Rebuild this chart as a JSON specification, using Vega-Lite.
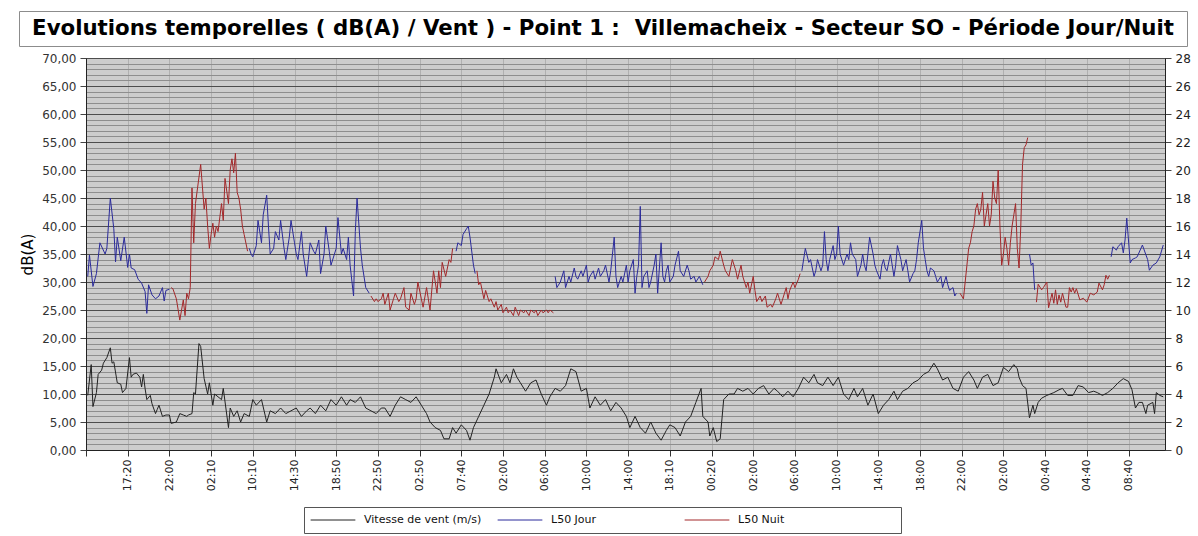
{
"$schema": "https://vega.github.io/schema/vega-lite/v6.json",
"background": "white",
"padding": {"left": 18, "top": 10, "right": 4, "bottom": 2},
"config": {"font": "DejaVu Sans", "view": {"stroke": null}},
"spacing": 4,
"datasets": {
"vent": [
{"k":1,"v":3.9},{"k":3,"v":6.1},{"k":4,"v":3.1},{"k":6,"v":4.1},{"k":7,"v":5.4},{"k":9,"v":5.7},{"k":10,"v":6.2},{"k":12,"v":6.6},{"k":14,"v":7.3},{"k":15,"v":6.2},{"k":16,"v":6.3},{"k":18,"v":4.8},{"k":20,"v":4.7},{"k":21,"v":4.1},{"k":23,"v":4.4},{"k":25,"v":6.6},{"k":26,"v":5.2},{"k":27,"v":5.4},{"k":29,"v":5.5},{"k":31,"v":5.2},{"k":32,"v":4.5},{"k":33,"v":5.4},{"k":34,"v":4.4},{"k":35,"v":3.6},{"k":37,"v":3.9},{"k":38,"v":3.3},{"k":40,"v":2.6},{"k":41,"v":2.9},{"k":42,"v":3.2},{"k":44,"v":2.4},{"k":46,"v":2.5},{"k":48,"v":2.5},{"k":49,"v":1.9},{"k":52,"v":2.0},{"k":54,"v":2.6},{"k":56,"v":2.5},{"k":58,"v":2.4},{"k":59,"v":2.5},{"k":61,"v":2.6},{"k":62,"v":4.1},{"k":63,"v":4.0},{"k":65,"v":7.6},{"k":66,"v":7.4},{"k":68,"v":5.1},{"k":70,"v":4.0},{"k":71,"v":4.8},{"k":73,"v":3.2},{"k":74,"v":4.0},{"k":78,"v":3.6},{"k":79,"v":4.4},{"k":82,"v":1.6},{"k":83,"v":3.0},{"k":85,"v":2.4},{"k":87,"v":2.8},{"k":89,"v":2.0},{"k":91,"v":2.6},{"k":94,"v":2.4},{"k":96,"v":3.6},{"k":98,"v":3.2},{"k":101,"v":3.6},{"k":104,"v":2.0},{"k":106,"v":2.8},{"k":109,"v":2.6},{"k":112,"v":3.0},{"k":115,"v":2.6},{"k":118,"v":2.8},{"k":121,"v":3.0},{"k":124,"v":2.4},{"k":127,"v":2.8},{"k":129,"v":3.0},{"k":132,"v":2.6},{"k":135,"v":3.2},{"k":138,"v":2.8},{"k":141,"v":3.6},{"k":144,"v":3.2},{"k":147,"v":3.8},{"k":150,"v":3.2},{"k":152,"v":3.6},{"k":155,"v":3.4},{"k":158,"v":3.8},{"k":161,"v":3.0},{"k":164,"v":2.8},{"k":167,"v":2.6},{"k":170,"v":3.0},{"k":172,"v":3.0},{"k":175,"v":2.4},{"k":178,"v":3.2},{"k":181,"v":3.8},{"k":184,"v":3.6},{"k":187,"v":3.4},{"k":190,"v":3.8},{"k":193,"v":3.2},{"k":196,"v":2.6},{"k":198,"v":2.0},{"k":201,"v":1.6},{"k":204,"v":1.4},{"k":206,"v":0.8},{"k":209,"v":0.8},{"k":211,"v":1.6},{"k":213,"v":1.2},{"k":216,"v":1.8},{"k":219,"v":1.4},{"k":221,"v":0.7},{"k":223,"v":1.6},{"k":226,"v":2.4},{"k":229,"v":3.2},{"k":232,"v":4.0},{"k":235,"v":5.2},{"k":236,"v":5.8},{"k":239,"v":4.8},{"k":242,"v":5.4},{"k":244,"v":4.8},{"k":246,"v":5.8},{"k":248,"v":5.2},{"k":250,"v":4.8},{"k":253,"v":4.2},{"k":256,"v":4.8},{"k":259,"v":5.0},{"k":262,"v":4.0},{"k":265,"v":3.2},{"k":267,"v":3.8},{"k":270,"v":4.4},{"k":273,"v":4.2},{"k":276,"v":4.6},{"k":279,"v":5.8},{"k":282,"v":5.6},{"k":285,"v":4.2},{"k":288,"v":4.4},{"k":290,"v":3.0},{"k":293,"v":3.8},{"k":296,"v":3.2},{"k":299,"v":3.6},{"k":302,"v":2.8},{"k":305,"v":3.4},{"k":308,"v":3.0},{"k":311,"v":2.4},{"k":313,"v":1.6},{"k":316,"v":2.4},{"k":319,"v":1.6},{"k":322,"v":1.2},{"k":325,"v":2.0},{"k":328,"v":1.2},{"k":331,"v":0.7},{"k":334,"v":1.4},{"k":336,"v":1.8},{"k":339,"v":1.6},{"k":342,"v":1.0},{"k":345,"v":2.0},{"k":348,"v":2.4},{"k":351,"v":3.4},{"k":354,"v":4.4},{"k":355,"v":2.4},{"k":358,"v":2.0},{"k":359,"v":1.0},{"k":361,"v":1.6},{"k":363,"v":0.6},{"k":365,"v":0.8},{"k":367,"v":3.6},{"k":370,"v":4.0},{"k":373,"v":4.0},{"k":375,"v":4.4},{"k":378,"v":4.2},{"k":381,"v":4.4},{"k":384,"v":4.0},{"k":387,"v":4.4},{"k":390,"v":4.6},{"k":393,"v":4.0},{"k":396,"v":4.4},{"k":398,"v":4.2},{"k":401,"v":3.8},{"k":404,"v":4.2},{"k":407,"v":3.8},{"k":410,"v":4.4},{"k":413,"v":5.2},{"k":416,"v":4.8},{"k":419,"v":5.4},{"k":421,"v":4.8},{"k":424,"v":4.6},{"k":427,"v":5.2},{"k":430,"v":4.6},{"k":433,"v":5.2},{"k":436,"v":4.0},{"k":439,"v":3.6},{"k":442,"v":4.4},{"k":444,"v":3.8},{"k":447,"v":4.4},{"k":450,"v":3.2},{"k":453,"v":4.0},{"k":456,"v":2.6},{"k":459,"v":3.2},{"k":462,"v":3.6},{"k":465,"v":4.2},{"k":467,"v":3.6},{"k":470,"v":4.2},{"k":473,"v":4.4},{"k":476,"v":4.8},{"k":479,"v":5.0},{"k":482,"v":5.4},{"k":485,"v":5.6},{"k":488,"v":6.2},{"k":490,"v":5.8},{"k":493,"v":5.0},{"k":496,"v":5.2},{"k":499,"v":4.4},{"k":502,"v":4.2},{"k":505,"v":5.2},{"k":508,"v":5.6},{"k":511,"v":5.0},{"k":513,"v":4.4},{"k":516,"v":5.2},{"k":519,"v":5.4},{"k":522,"v":4.6},{"k":525,"v":4.8},{"k":528,"v":5.9},{"k":531,"v":5.6},{"k":534,"v":6.1},{"k":536,"v":5.8},{"k":537,"v":5.2},{"k":539,"v":4.6},{"k":541,"v":4.4},{"k":543,"v":2.3},{"k":545,"v":3.2},{"k":546,"v":2.6},{"k":548,"v":3.4},{"k":550,"v":3.7},{"k":553,"v":3.9},{"k":557,"v":4.1},{"k":560,"v":4.3},{"k":562,"v":4.4},{"k":565,"v":3.9},{"k":568,"v":3.9},{"k":571,"v":4.6},{"k":574,"v":4.5},{"k":577,"v":4.1},{"k":580,"v":4.2},{"k":582,"v":4.1},{"k":585,"v":3.9},{"k":588,"v":4.1},{"k":591,"v":4.4},{"k":594,"v":4.8},{"k":597,"v":5.1},{"k":600,"v":4.9},{"k":602,"v":4.3},{"k":604,"v":3.0},{"k":606,"v":3.4},{"k":608,"v":3.4},{"k":610,"v":2.6},{"k":611,"v":3.2},{"k":614,"v":3.4},{"k":615,"v":2.6},{"k":616,"v":4.1},{"k":618,"v":3.9},{"k":620,"v":3.8}
],
"l50": [
{"k":1,"db":31,"s":"L50 Jour","g":"J1"},{"k":2,"db":34.8,"s":"L50 Jour","g":"J1"},{"k":4,"db":29.2,"s":"L50 Jour","g":"J1"},{"k":6,"db":31.5,"s":"L50 Jour","g":"J1"},{"k":8,"db":37,"s":"L50 Jour","g":"J1"},{"k":11,"db":35,"s":"L50 Jour","g":"J1"},{"k":12,"db":36,"s":"L50 Jour","g":"J1"},{"k":14,"db":45,"s":"L50 Jour","g":"J1"},{"k":16,"db":39.5,"s":"L50 Jour","g":"J1"},{"k":17,"db":33.6,"s":"L50 Jour","g":"J1"},{"k":18,"db":38,"s":"L50 Jour","g":"J1"},{"k":20,"db":33.8,"s":"L50 Jour","g":"J1"},{"k":22,"db":38,"s":"L50 Jour","g":"J1"},{"k":24,"db":32.6,"s":"L50 Jour","g":"J1"},{"k":25,"db":35,"s":"L50 Jour","g":"J1"},{"k":26,"db":32.5,"s":"L50 Jour","g":"J1"},{"k":28,"db":32.2,"s":"L50 Jour","g":"J1"},{"k":30,"db":30.5,"s":"L50 Jour","g":"J1"},{"k":32,"db":29.8,"s":"L50 Jour","g":"J1"},{"k":34,"db":28.3,"s":"L50 Jour","g":"J1"},{"k":35,"db":24.4,"s":"L50 Jour","g":"J1"},{"k":36,"db":29.5,"s":"L50 Jour","g":"J1"},{"k":38,"db":27.7,"s":"L50 Jour","g":"J1"},{"k":40,"db":27,"s":"L50 Jour","g":"J1"},{"k":42,"db":27.5,"s":"L50 Jour","g":"J1"},{"k":44,"db":29,"s":"L50 Jour","g":"J1"},{"k":45,"db":26.6,"s":"L50 Jour","g":"J1"},{"k":46,"db":28.5,"s":"L50 Jour","g":"J1"},{"k":48,"db":28.7,"s":"L50 Jour","g":"J1"},
{"k":49,"db":29,"s":"L50 Nuit","g":"N1"},{"k":50,"db":28.8,"s":"L50 Nuit","g":"N1"},{"k":52,"db":27,"s":"L50 Nuit","g":"N1"},{"k":54,"db":23.2,"s":"L50 Nuit","g":"N1"},{"k":56,"db":26.8,"s":"L50 Nuit","g":"N1"},{"k":57,"db":24,"s":"L50 Nuit","g":"N1"},{"k":58,"db":28,"s":"L50 Nuit","g":"N1"},{"k":59,"db":27,"s":"L50 Nuit","g":"N1"},{"k":60,"db":29,"s":"L50 Nuit","g":"N1"},{"k":61,"db":46.8,"s":"L50 Nuit","g":"N1"},{"k":62,"db":37,"s":"L50 Nuit","g":"N1"},{"k":63,"db":44,"s":"L50 Nuit","g":"N1"},{"k":66,"db":51,"s":"L50 Nuit","g":"N1"},{"k":68,"db":43,"s":"L50 Nuit","g":"N1"},{"k":69,"db":45,"s":"L50 Nuit","g":"N1"},{"k":70,"db":40,"s":"L50 Nuit","g":"N1"},{"k":71,"db":36,"s":"L50 Nuit","g":"N1"},{"k":72,"db":38.5,"s":"L50 Nuit","g":"N1"},{"k":73,"db":40.5,"s":"L50 Nuit","g":"N1"},{"k":74,"db":38,"s":"L50 Nuit","g":"N1"},{"k":75,"db":40,"s":"L50 Nuit","g":"N1"},{"k":76,"db":39,"s":"L50 Nuit","g":"N1"},{"k":78,"db":44,"s":"L50 Nuit","g":"N1"},{"k":79,"db":41,"s":"L50 Nuit","g":"N1"},{"k":80,"db":48.5,"s":"L50 Nuit","g":"N1"},{"k":82,"db":44,"s":"L50 Nuit","g":"N1"},{"k":83,"db":50,"s":"L50 Nuit","g":"N1"},{"k":84,"db":52,"s":"L50 Nuit","g":"N1"},{"k":85,"db":49.5,"s":"L50 Nuit","g":"N1"},{"k":86,"db":53,"s":"L50 Nuit","g":"N1"},{"k":87,"db":46,"s":"L50 Nuit","g":"N1"},{"k":88,"db":45,"s":"L50 Nuit","g":"N1"},{"k":89,"db":43,"s":"L50 Nuit","g":"N1"},{"k":90,"db":40,"s":"L50 Nuit","g":"N1"},{"k":91,"db":38.5,"s":"L50 Nuit","g":"N1"},{"k":93,"db":35.5,"s":"L50 Nuit","g":"N1"},
{"k":94,"db":36,"s":"L50 Jour","g":"J2"},{"k":95,"db":35,"s":"L50 Jour","g":"J2"},{"k":96,"db":34.5,"s":"L50 Jour","g":"J2"},{"k":98,"db":36.5,"s":"L50 Jour","g":"J2"},{"k":99,"db":41,"s":"L50 Jour","g":"J2"},{"k":101,"db":37,"s":"L50 Jour","g":"J2"},{"k":102,"db":42,"s":"L50 Jour","g":"J2"},{"k":104,"db":45.5,"s":"L50 Jour","g":"J2"},{"k":105,"db":40,"s":"L50 Jour","g":"J2"},{"k":106,"db":35,"s":"L50 Jour","g":"J2"},{"k":108,"db":36,"s":"L50 Jour","g":"J2"},{"k":109,"db":39,"s":"L50 Jour","g":"J2"},{"k":111,"db":37.5,"s":"L50 Jour","g":"J2"},{"k":112,"db":41,"s":"L50 Jour","g":"J2"},{"k":114,"db":36,"s":"L50 Jour","g":"J2"},{"k":115,"db":34,"s":"L50 Jour","g":"J2"},{"k":117,"db":38,"s":"L50 Jour","g":"J2"},{"k":118,"db":41,"s":"L50 Jour","g":"J2"},{"k":120,"db":37,"s":"L50 Jour","g":"J2"},{"k":121,"db":35,"s":"L50 Jour","g":"J2"},{"k":122,"db":34,"s":"L50 Jour","g":"J2"},{"k":124,"db":39,"s":"L50 Jour","g":"J2"},{"k":125,"db":35,"s":"L50 Jour","g":"J2"},{"k":127,"db":31,"s":"L50 Jour","g":"J2"},{"k":128,"db":34,"s":"L50 Jour","g":"J2"},{"k":129,"db":37,"s":"L50 Jour","g":"J2"},{"k":131,"db":35.5,"s":"L50 Jour","g":"J2"},{"k":132,"db":35,"s":"L50 Jour","g":"J2"},{"k":134,"db":37.5,"s":"L50 Jour","g":"J2"},{"k":135,"db":31.5,"s":"L50 Jour","g":"J2"},{"k":137,"db":35,"s":"L50 Jour","g":"J2"},{"k":138,"db":40,"s":"L50 Jour","g":"J2"},{"k":140,"db":35.5,"s":"L50 Jour","g":"J2"},{"k":141,"db":33,"s":"L50 Jour","g":"J2"},{"k":143,"db":35,"s":"L50 Jour","g":"J2"},{"k":144,"db":36,"s":"L50 Jour","g":"J2"},{"k":145,"db":41.5,"s":"L50 Jour","g":"J2"},{"k":147,"db":35,"s":"L50 Jour","g":"J2"},{"k":148,"db":36,"s":"L50 Jour","g":"J2"},{"k":150,"db":34,"s":"L50 Jour","g":"J2"},{"k":151,"db":38,"s":"L50 Jour","g":"J2"},{"k":152,"db":33,"s":"L50 Jour","g":"J2"},{"k":154,"db":27.5,"s":"L50 Jour","g":"J2"},{"k":155,"db":39,"s":"L50 Jour","g":"J2"},{"k":156,"db":45,"s":"L50 Jour","g":"J2"},{"k":158,"db":36,"s":"L50 Jour","g":"J2"},{"k":159,"db":33,"s":"L50 Jour","g":"J2"},{"k":160,"db":31,"s":"L50 Jour","g":"J2"},{"k":161,"db":29,"s":"L50 Jour","g":"J2"},{"k":163,"db":28,"s":"L50 Jour","g":"J2"},
{"k":164,"db":27.5,"s":"L50 Nuit","g":"N2"},{"k":166,"db":26.5,"s":"L50 Nuit","g":"N2"},{"k":167,"db":27,"s":"L50 Nuit","g":"N2"},{"k":168,"db":26.5,"s":"L50 Nuit","g":"N2"},{"k":170,"db":27,"s":"L50 Nuit","g":"N2"},{"k":171,"db":28,"s":"L50 Nuit","g":"N2"},{"k":172,"db":26,"s":"L50 Nuit","g":"N2"},{"k":174,"db":28,"s":"L50 Nuit","g":"N2"},{"k":175,"db":25,"s":"L50 Nuit","g":"N2"},{"k":177,"db":27,"s":"L50 Nuit","g":"N2"},{"k":178,"db":28,"s":"L50 Nuit","g":"N2"},{"k":180,"db":26.5,"s":"L50 Nuit","g":"N2"},{"k":181,"db":27,"s":"L50 Nuit","g":"N2"},{"k":183,"db":29,"s":"L50 Nuit","g":"N2"},{"k":184,"db":25.5,"s":"L50 Nuit","g":"N2"},{"k":186,"db":25,"s":"L50 Nuit","g":"N2"},{"k":187,"db":28,"s":"L50 Nuit","g":"N2"},{"k":189,"db":26,"s":"L50 Nuit","g":"N2"},{"k":190,"db":27,"s":"L50 Nuit","g":"N2"},{"k":191,"db":30,"s":"L50 Nuit","g":"N2"},{"k":193,"db":27,"s":"L50 Nuit","g":"N2"},{"k":194,"db":25.5,"s":"L50 Nuit","g":"N2"},{"k":196,"db":29,"s":"L50 Nuit","g":"N2"},{"k":197,"db":27,"s":"L50 Nuit","g":"N2"},{"k":198,"db":25,"s":"L50 Nuit","g":"N2"},{"k":200,"db":32,"s":"L50 Nuit","g":"N2"},{"k":202,"db":28,"s":"L50 Nuit","g":"N2"},{"k":203,"db":32,"s":"L50 Nuit","g":"N2"},{"k":204,"db":29,"s":"L50 Nuit","g":"N2"},{"k":205,"db":33.5,"s":"L50 Nuit","g":"N2"},{"k":207,"db":31,"s":"L50 Nuit","g":"N2"},{"k":209,"db":34,"s":"L50 Nuit","g":"N2"},{"k":210,"db":33.5,"s":"L50 Nuit","g":"N2"},{"k":211,"db":36,"s":"L50 Nuit","g":"N2"},
{"k":213,"db":35.5,"s":"L50 Jour","g":"J3"},{"k":214,"db":37,"s":"L50 Jour","g":"J3"},{"k":216,"db":36.5,"s":"L50 Jour","g":"J3"},{"k":217,"db":38.5,"s":"L50 Jour","g":"J3"},{"k":219,"db":39.5,"s":"L50 Jour","g":"J3"},{"k":220,"db":40,"s":"L50 Jour","g":"J3"},{"k":221,"db":38,"s":"L50 Jour","g":"J3"},{"k":223,"db":33,"s":"L50 Jour","g":"J3"},{"k":224,"db":31.5,"s":"L50 Jour","g":"J3"},
{"k":225,"db":32,"s":"L50 Nuit","g":"N3"},{"k":226,"db":29.5,"s":"L50 Nuit","g":"N3"},{"k":227,"db":30,"s":"L50 Nuit","g":"N3"},{"k":229,"db":27,"s":"L50 Nuit","g":"N3"},{"k":230,"db":28.5,"s":"L50 Nuit","g":"N3"},{"k":232,"db":26.5,"s":"L50 Nuit","g":"N3"},{"k":233,"db":27,"s":"L50 Nuit","g":"N3"},{"k":235,"db":25.5,"s":"L50 Nuit","g":"N3"},{"k":236,"db":26.5,"s":"L50 Nuit","g":"N3"},{"k":237,"db":25,"s":"L50 Nuit","g":"N3"},{"k":239,"db":26,"s":"L50 Nuit","g":"N3"},{"k":240,"db":24.5,"s":"L50 Nuit","g":"N3"},{"k":242,"db":25.5,"s":"L50 Nuit","g":"N3"},{"k":243,"db":24.5,"s":"L50 Nuit","g":"N3"},{"k":244,"db":25,"s":"L50 Nuit","g":"N3"},{"k":246,"db":24,"s":"L50 Nuit","g":"N3"},{"k":247,"db":25.5,"s":"L50 Nuit","g":"N3"},{"k":249,"db":24,"s":"L50 Nuit","g":"N3"},{"k":250,"db":25,"s":"L50 Nuit","g":"N3"},{"k":252,"db":24.5,"s":"L50 Nuit","g":"N3"},{"k":253,"db":25,"s":"L50 Nuit","g":"N3"},{"k":255,"db":24,"s":"L50 Nuit","g":"N3"},{"k":256,"db":25,"s":"L50 Nuit","g":"N3"},{"k":258,"db":24.5,"s":"L50 Nuit","g":"N3"},{"k":259,"db":25,"s":"L50 Nuit","g":"N3"},{"k":260,"db":24,"s":"L50 Nuit","g":"N3"},{"k":262,"db":25,"s":"L50 Nuit","g":"N3"},{"k":263,"db":24.5,"s":"L50 Nuit","g":"N3"},{"k":265,"db":25,"s":"L50 Nuit","g":"N3"},{"k":266,"db":24.5,"s":"L50 Nuit","g":"N3"},{"k":267,"db":25,"s":"L50 Nuit","g":"N3"},{"k":269,"db":24.5,"s":"L50 Nuit","g":"N3"},
{"k":270,"db":31,"s":"L50 Jour","g":"J4"},{"k":271,"db":29,"s":"L50 Jour","g":"J4"},{"k":273,"db":30,"s":"L50 Jour","g":"J4"},{"k":275,"db":32,"s":"L50 Jour","g":"J4"},{"k":276,"db":29,"s":"L50 Jour","g":"J4"},{"k":278,"db":31,"s":"L50 Jour","g":"J4"},{"k":279,"db":30,"s":"L50 Jour","g":"J4"},{"k":281,"db":32.5,"s":"L50 Jour","g":"J4"},{"k":282,"db":31,"s":"L50 Jour","g":"J4"},{"k":283,"db":30.5,"s":"L50 Jour","g":"J4"},{"k":285,"db":32,"s":"L50 Jour","g":"J4"},{"k":286,"db":31,"s":"L50 Jour","g":"J4"},{"k":288,"db":33,"s":"L50 Jour","g":"J4"},{"k":289,"db":30,"s":"L50 Jour","g":"J4"},{"k":290,"db":31,"s":"L50 Jour","g":"J4"},{"k":292,"db":32,"s":"L50 Jour","g":"J4"},{"k":293,"db":30.5,"s":"L50 Jour","g":"J4"},{"k":295,"db":32.5,"s":"L50 Jour","g":"J4"},{"k":296,"db":31,"s":"L50 Jour","g":"J4"},{"k":298,"db":32,"s":"L50 Jour","g":"J4"},{"k":299,"db":33,"s":"L50 Jour","g":"J4"},{"k":301,"db":30,"s":"L50 Jour","g":"J4"},{"k":302,"db":32,"s":"L50 Jour","g":"J4"},{"k":304,"db":38,"s":"L50 Jour","g":"J4"},{"k":305,"db":31,"s":"L50 Jour","g":"J4"},{"k":306,"db":29,"s":"L50 Jour","g":"J4"},{"k":308,"db":31,"s":"L50 Jour","g":"J4"},{"k":309,"db":30,"s":"L50 Jour","g":"J4"},{"k":311,"db":33,"s":"L50 Jour","g":"J4"},{"k":312,"db":30,"s":"L50 Jour","g":"J4"},{"k":313,"db":32,"s":"L50 Jour","g":"J4"},{"k":315,"db":34,"s":"L50 Jour","g":"J4"},{"k":316,"db":28,"s":"L50 Jour","g":"J4"},{"k":317,"db":31,"s":"L50 Jour","g":"J4"},{"k":318,"db":33,"s":"L50 Jour","g":"J4"},{"k":319,"db":43.5,"s":"L50 Jour","g":"J4"},{"k":320,"db":29,"s":"L50 Jour","g":"J4"},{"k":321,"db":31,"s":"L50 Jour","g":"J4"},{"k":323,"db":32,"s":"L50 Jour","g":"J4"},{"k":324,"db":29,"s":"L50 Jour","g":"J4"},{"k":325,"db":30,"s":"L50 Jour","g":"J4"},{"k":327,"db":33,"s":"L50 Jour","g":"J4"},{"k":328,"db":35,"s":"L50 Jour","g":"J4"},{"k":329,"db":28,"s":"L50 Jour","g":"J4"},{"k":331,"db":37,"s":"L50 Jour","g":"J4"},{"k":332,"db":31,"s":"L50 Jour","g":"J4"},{"k":333,"db":30,"s":"L50 Jour","g":"J4"},{"k":334,"db":32,"s":"L50 Jour","g":"J4"},{"k":335,"db":33,"s":"L50 Jour","g":"J4"},{"k":336,"db":30,"s":"L50 Jour","g":"J4"},{"k":338,"db":31,"s":"L50 Jour","g":"J4"},{"k":339,"db":33,"s":"L50 Jour","g":"J4"},{"k":341,"db":35.5,"s":"L50 Jour","g":"J4"},{"k":342,"db":32,"s":"L50 Jour","g":"J4"},{"k":344,"db":31,"s":"L50 Jour","g":"J4"},{"k":346,"db":33,"s":"L50 Jour","g":"J4"},{"k":347,"db":32,"s":"L50 Jour","g":"J4"},{"k":348,"db":30.5,"s":"L50 Jour","g":"J4"},{"k":350,"db":31,"s":"L50 Jour","g":"J4"},{"k":351,"db":30,"s":"L50 Jour","g":"J4"},{"k":353,"db":31,"s":"L50 Jour","g":"J4"},{"k":355,"db":29.5,"s":"L50 Jour","g":"J4"},
{"k":356,"db":30,"s":"L50 Nuit","g":"N4"},{"k":358,"db":31,"s":"L50 Nuit","g":"N4"},{"k":359,"db":32,"s":"L50 Nuit","g":"N4"},{"k":361,"db":33,"s":"L50 Nuit","g":"N4"},{"k":362,"db":34.5,"s":"L50 Nuit","g":"N4"},{"k":364,"db":34,"s":"L50 Nuit","g":"N4"},{"k":365,"db":35.5,"s":"L50 Nuit","g":"N4"},{"k":367,"db":33,"s":"L50 Nuit","g":"N4"},{"k":368,"db":32,"s":"L50 Nuit","g":"N4"},{"k":370,"db":31,"s":"L50 Nuit","g":"N4"},{"k":371,"db":32.5,"s":"L50 Nuit","g":"N4"},{"k":372,"db":34,"s":"L50 Nuit","g":"N4"},{"k":374,"db":32,"s":"L50 Nuit","g":"N4"},{"k":375,"db":30.5,"s":"L50 Nuit","g":"N4"},{"k":377,"db":33,"s":"L50 Nuit","g":"N4"},{"k":378,"db":31,"s":"L50 Nuit","g":"N4"},{"k":380,"db":29,"s":"L50 Nuit","g":"N4"},{"k":381,"db":30,"s":"L50 Nuit","g":"N4"},{"k":382,"db":28,"s":"L50 Nuit","g":"N4"},{"k":384,"db":31,"s":"L50 Nuit","g":"N4"},{"k":385,"db":28.5,"s":"L50 Nuit","g":"N4"},{"k":386,"db":26.5,"s":"L50 Nuit","g":"N4"},{"k":388,"db":27.5,"s":"L50 Nuit","g":"N4"},{"k":389,"db":26.5,"s":"L50 Nuit","g":"N4"},{"k":391,"db":27.5,"s":"L50 Nuit","g":"N4"},{"k":392,"db":25.5,"s":"L50 Nuit","g":"N4"},{"k":394,"db":26,"s":"L50 Nuit","g":"N4"},{"k":395,"db":25.5,"s":"L50 Nuit","g":"N4"},{"k":397,"db":27,"s":"L50 Nuit","g":"N4"},{"k":398,"db":28,"s":"L50 Nuit","g":"N4"},{"k":400,"db":26,"s":"L50 Nuit","g":"N4"},{"k":401,"db":27,"s":"L50 Nuit","g":"N4"},{"k":403,"db":29,"s":"L50 Nuit","g":"N4"},{"k":404,"db":27,"s":"L50 Nuit","g":"N4"},{"k":405,"db":28.5,"s":"L50 Nuit","g":"N4"},{"k":407,"db":30,"s":"L50 Nuit","g":"N4"},{"k":408,"db":29,"s":"L50 Nuit","g":"N4"},{"k":410,"db":30.5,"s":"L50 Nuit","g":"N4"},{"k":411,"db":31.5,"s":"L50 Nuit","g":"N4"},
{"k":412,"db":32,"s":"L50 Jour","g":"J5"},{"k":414,"db":36,"s":"L50 Jour","g":"J5"},{"k":416,"db":33.5,"s":"L50 Jour","g":"J5"},{"k":417,"db":34,"s":"L50 Jour","g":"J5"},{"k":419,"db":31,"s":"L50 Jour","g":"J5"},{"k":420,"db":32,"s":"L50 Jour","g":"J5"},{"k":421,"db":34,"s":"L50 Jour","g":"J5"},{"k":423,"db":32,"s":"L50 Jour","g":"J5"},{"k":424,"db":33,"s":"L50 Jour","g":"J5"},{"k":425,"db":39,"s":"L50 Jour","g":"J5"},{"k":426,"db":34,"s":"L50 Jour","g":"J5"},{"k":427,"db":32,"s":"L50 Jour","g":"J5"},{"k":428,"db":34,"s":"L50 Jour","g":"J5"},{"k":430,"db":36.5,"s":"L50 Jour","g":"J5"},{"k":431,"db":34,"s":"L50 Jour","g":"J5"},{"k":432,"db":35,"s":"L50 Jour","g":"J5"},{"k":433,"db":40,"s":"L50 Jour","g":"J5"},{"k":434,"db":35,"s":"L50 Jour","g":"J5"},{"k":436,"db":33,"s":"L50 Jour","g":"J5"},{"k":438,"db":35,"s":"L50 Jour","g":"J5"},{"k":439,"db":34,"s":"L50 Jour","g":"J5"},{"k":440,"db":37,"s":"L50 Jour","g":"J5"},{"k":441,"db":35,"s":"L50 Jour","g":"J5"},{"k":443,"db":34,"s":"L50 Jour","g":"J5"},{"k":444,"db":31,"s":"L50 Jour","g":"J5"},{"k":446,"db":33,"s":"L50 Jour","g":"J5"},{"k":447,"db":35,"s":"L50 Jour","g":"J5"},{"k":448,"db":33,"s":"L50 Jour","g":"J5"},{"k":449,"db":32,"s":"L50 Jour","g":"J5"},{"k":450,"db":35,"s":"L50 Jour","g":"J5"},{"k":451,"db":38,"s":"L50 Jour","g":"J5"},{"k":453,"db":35,"s":"L50 Jour","g":"J5"},{"k":454,"db":33,"s":"L50 Jour","g":"J5"},{"k":455,"db":32,"s":"L50 Jour","g":"J5"},{"k":457,"db":30.5,"s":"L50 Jour","g":"J5"},{"k":458,"db":33,"s":"L50 Jour","g":"J5"},{"k":459,"db":34,"s":"L50 Jour","g":"J5"},{"k":460,"db":32.5,"s":"L50 Jour","g":"J5"},{"k":461,"db":32,"s":"L50 Jour","g":"J5"},{"k":463,"db":35,"s":"L50 Jour","g":"J5"},{"k":464,"db":33,"s":"L50 Jour","g":"J5"},{"k":465,"db":31,"s":"L50 Jour","g":"J5"},{"k":466,"db":33,"s":"L50 Jour","g":"J5"},{"k":467,"db":36.5,"s":"L50 Jour","g":"J5"},{"k":469,"db":34,"s":"L50 Jour","g":"J5"},{"k":470,"db":32,"s":"L50 Jour","g":"J5"},{"k":471,"db":33,"s":"L50 Jour","g":"J5"},{"k":472,"db":34,"s":"L50 Jour","g":"J5"},{"k":473,"db":32,"s":"L50 Jour","g":"J5"},{"k":474,"db":30,"s":"L50 Jour","g":"J5"},{"k":476,"db":31.5,"s":"L50 Jour","g":"J5"},{"k":477,"db":32,"s":"L50 Jour","g":"J5"},{"k":478,"db":34,"s":"L50 Jour","g":"J5"},{"k":479,"db":37,"s":"L50 Jour","g":"J5"},{"k":481,"db":41,"s":"L50 Jour","g":"J5"},{"k":482,"db":36,"s":"L50 Jour","g":"J5"},{"k":483,"db":34,"s":"L50 Jour","g":"J5"},{"k":484,"db":32,"s":"L50 Jour","g":"J5"},{"k":485,"db":31,"s":"L50 Jour","g":"J5"},{"k":486,"db":32.5,"s":"L50 Jour","g":"J5"},{"k":488,"db":32,"s":"L50 Jour","g":"J5"},{"k":489,"db":31,"s":"L50 Jour","g":"J5"},{"k":490,"db":30,"s":"L50 Jour","g":"J5"},{"k":492,"db":31,"s":"L50 Jour","g":"J5"},{"k":493,"db":29,"s":"L50 Jour","g":"J5"},{"k":494,"db":30,"s":"L50 Jour","g":"J5"},{"k":495,"db":31,"s":"L50 Jour","g":"J5"},{"k":496,"db":29.5,"s":"L50 Jour","g":"J5"},{"k":497,"db":28.5,"s":"L50 Jour","g":"J5"},{"k":499,"db":29,"s":"L50 Jour","g":"J5"},{"k":500,"db":27.5,"s":"L50 Jour","g":"J5"},{"k":501,"db":28,"s":"L50 Jour","g":"J5"},
{"k":503,"db":28,"s":"L50 Nuit","g":"N5"},{"k":505,"db":27,"s":"L50 Nuit","g":"N5"},{"k":506,"db":30,"s":"L50 Nuit","g":"N5"},{"k":507,"db":33,"s":"L50 Nuit","g":"N5"},{"k":508,"db":36,"s":"L50 Nuit","g":"N5"},{"k":509,"db":37,"s":"L50 Nuit","g":"N5"},{"k":510,"db":39,"s":"L50 Nuit","g":"N5"},{"k":511,"db":40,"s":"L50 Nuit","g":"N5"},{"k":512,"db":43,"s":"L50 Nuit","g":"N5"},{"k":513,"db":44,"s":"L50 Nuit","g":"N5"},{"k":514,"db":42,"s":"L50 Nuit","g":"N5"},{"k":515,"db":43,"s":"L50 Nuit","g":"N5"},{"k":516,"db":46,"s":"L50 Nuit","g":"N5"},{"k":517,"db":40,"s":"L50 Nuit","g":"N5"},{"k":518,"db":42,"s":"L50 Nuit","g":"N5"},{"k":519,"db":44,"s":"L50 Nuit","g":"N5"},{"k":520,"db":40,"s":"L50 Nuit","g":"N5"},{"k":521,"db":42,"s":"L50 Nuit","g":"N5"},{"k":522,"db":48,"s":"L50 Nuit","g":"N5"},{"k":523,"db":45,"s":"L50 Nuit","g":"N5"},{"k":524,"db":44,"s":"L50 Nuit","g":"N5"},{"k":525,"db":50,"s":"L50 Nuit","g":"N5"},{"k":526,"db":40,"s":"L50 Nuit","g":"N5"},{"k":527,"db":33,"s":"L50 Nuit","g":"N5"},{"k":528,"db":35,"s":"L50 Nuit","g":"N5"},{"k":529,"db":38,"s":"L50 Nuit","g":"N5"},{"k":530,"db":36,"s":"L50 Nuit","g":"N5"},{"k":531,"db":33,"s":"L50 Nuit","g":"N5"},{"k":532,"db":37,"s":"L50 Nuit","g":"N5"},{"k":533,"db":40,"s":"L50 Nuit","g":"N5"},{"k":534,"db":42,"s":"L50 Nuit","g":"N5"},{"k":535,"db":44,"s":"L50 Nuit","g":"N5"},{"k":536,"db":36,"s":"L50 Nuit","g":"N5"},{"k":537,"db":32.5,"s":"L50 Nuit","g":"N5"},{"k":538,"db":40,"s":"L50 Nuit","g":"N5"},{"k":539,"db":51,"s":"L50 Nuit","g":"N5"},{"k":540,"db":54,"s":"L50 Nuit","g":"N5"},{"k":541,"db":54.5,"s":"L50 Nuit","g":"N5"},{"k":542,"db":55.8,"s":"L50 Nuit","g":"N5"},
{"k":543,"db":35,"s":"L50 Jour","g":"J6"},{"k":544,"db":33,"s":"L50 Jour","g":"J6"},{"k":545,"db":33.4,"s":"L50 Jour","g":"J6"},{"k":546,"db":28.6,"s":"L50 Jour","g":"J6"},
{"k":547,"db":26.4,"s":"L50 Nuit","g":"N6"},{"k":548,"db":29.6,"s":"L50 Nuit","g":"N6"},{"k":550,"db":28.6,"s":"L50 Nuit","g":"N6"},{"k":551,"db":29,"s":"L50 Nuit","g":"N6"},{"k":553,"db":30,"s":"L50 Nuit","g":"N6"},{"k":554,"db":25.4,"s":"L50 Nuit","g":"N6"},{"k":556,"db":28,"s":"L50 Nuit","g":"N6"},{"k":557,"db":26.2,"s":"L50 Nuit","g":"N6"},{"k":558,"db":28.6,"s":"L50 Nuit","g":"N6"},{"k":559,"db":26,"s":"L50 Nuit","g":"N6"},{"k":560,"db":27.7,"s":"L50 Nuit","g":"N6"},{"k":561,"db":26.4,"s":"L50 Nuit","g":"N6"},{"k":562,"db":28,"s":"L50 Nuit","g":"N6"},{"k":564,"db":25.5,"s":"L50 Nuit","g":"N6"},{"k":565,"db":25.5,"s":"L50 Nuit","g":"N6"},{"k":566,"db":29,"s":"L50 Nuit","g":"N6"},{"k":567,"db":28.2,"s":"L50 Nuit","g":"N6"},{"k":568,"db":29,"s":"L50 Nuit","g":"N6"},{"k":569,"db":28,"s":"L50 Nuit","g":"N6"},{"k":570,"db":28.8,"s":"L50 Nuit","g":"N6"},{"k":572,"db":26.8,"s":"L50 Nuit","g":"N6"},{"k":574,"db":27.1,"s":"L50 Nuit","g":"N6"},{"k":576,"db":26.4,"s":"L50 Nuit","g":"N6"},{"k":578,"db":28,"s":"L50 Nuit","g":"N6"},{"k":580,"db":27.7,"s":"L50 Nuit","g":"N6"},{"k":582,"db":28.2,"s":"L50 Nuit","g":"N6"},{"k":583,"db":29.8,"s":"L50 Nuit","g":"N6"},{"k":585,"db":28.6,"s":"L50 Nuit","g":"N6"},{"k":586,"db":29.5,"s":"L50 Nuit","g":"N6"},{"k":587,"db":31.2,"s":"L50 Nuit","g":"N6"},{"k":588,"db":30.5,"s":"L50 Nuit","g":"N6"},{"k":589,"db":31.2,"s":"L50 Nuit","g":"N6"},
{"k":590,"db":34.5,"s":"L50 Jour","g":"J7"},{"k":591,"db":36.3,"s":"L50 Jour","g":"J7"},{"k":593,"db":35.7,"s":"L50 Jour","g":"J7"},{"k":594,"db":36.3,"s":"L50 Jour","g":"J7"},{"k":596,"db":37,"s":"L50 Jour","g":"J7"},{"k":597,"db":35.2,"s":"L50 Jour","g":"J7"},{"k":598,"db":37.5,"s":"L50 Jour","g":"J7"},{"k":599,"db":41.4,"s":"L50 Jour","g":"J7"},{"k":601,"db":33.4,"s":"L50 Jour","g":"J7"},{"k":602,"db":34,"s":"L50 Jour","g":"J7"},{"k":604,"db":34.3,"s":"L50 Jour","g":"J7"},{"k":605,"db":34.5,"s":"L50 Jour","g":"J7"},{"k":608,"db":36.6,"s":"L50 Jour","g":"J7"},{"k":611,"db":34,"s":"L50 Jour","g":"J7"},{"k":612,"db":32.1,"s":"L50 Jour","g":"J7"},{"k":614,"db":33,"s":"L50 Jour","g":"J7"},{"k":616,"db":33.4,"s":"L50 Jour","g":"J7"},{"k":618,"db":34.5,"s":"L50 Jour","g":"J7"},{"k":620,"db":36.6,"s":"L50 Jour","g":"J7"}
]
},
"vconcat": [
{
"width": 1168, "height": 35,
"view": {"stroke": "#8c8c8c", "fill": "#ffffff"},
"data": {"values": [{"titre": "Evolutions temporelles ( dB(A) / Vent ) - Point 1 :\u00a0 Villemacheix - Secteur SO - Période Jour/Nuit"}]},
"mark": {"type": "text", "fontSize": 21.3, "fontWeight": "bold", "font": "DejaVu Sans", "color": "#000000"},
"encoding": {"text": {"field": "titre", "type": "nominal"}}
},
{
"spacing": 0,
"hconcat": [
{
"width": 1, "height": 392,
"data": {"values": []},
"mark": {"type": "text"}
},
{
"width": 1079, "height": 392,
"view": {"stroke": "#333333", "fill": "#cdcdcd"},
"encoding": {
"x": {"field": "k", "type": "quantitative",
"scale": {"domain": [0, 621], "nice": false, "zero": false},
"axis": {"values": [0,24,48,72,96,120,144,168,192,216,240,264,288,312,336,360,384,408,432,456,480,504,528,552,576,600],
"labelExpr": "['','17:20','22:00','02:10','10:10','14:30','18:50','22:50','02:50','07:40','02:00','06:00','10:00','14:00','18:10','00:20','02:00','06:00','10:00','14:00','18:00','22:00','02:00','00:40','04:40','08:40'][round(datum.value/24)]",
"labelAngle": -90, "title": null, "grid": true, "gridColor": "#b0b0b0", "gridWidth": 1,
"tickColor": "#333333", "tickSize": 6, "domainColor": "#222222", "labelFontSize": 11, "labelColor": "#222222",
"labelPadding": 3, "labelOverlap": false}}
},
"layer": [
{
"data": {"name": "l50"},
"mark": {"type": "line", "strokeWidth": 1},
"encoding": {
"y": {"field": "db", "type": "quantitative",
"scale": {"domain": [0, 70], "nice": false},
"axis": {"orient": "left", "values": [0,1,2,3,4,5,6,7,8,9,10,11,12,13,14,15,16,17,18,19,20,21,22,23,24,25,26,27,28,29,30,31,32,33,34,35,36,37,38,39,40,41,42,43,44,45,46,47,48,49,50,51,52,53,54,55,56,57,58,59,60,61,62,63,64,65,66,67,68,69,70],
"labelExpr": "datum.value % 5 === 0 ? replace(format(datum.value, '.2f'), '.', ',') : ''",
"labelOverlap": false, "labelFontSize": 12, "labelColor": "#333333", "labelPadding": 4,
"title": "dB(A)", "titleFontSize": 15, "titleFontWeight": "normal", "titleColor": "#000000", "titlePadding": 6,
"tickSize": 6, "tickColor": {"condition": {"test": "datum.value % 5 === 0", "value": "#444444"}, "value": "transparent"},
"domainColor": "#222222",
"grid": true, "gridWidth": 1,
"gridColor": {"condition": {"test": "datum.value % 5 === 0", "value": "#4d4d4d"}, "value": "#8e8e8e"}}},
"color": {"field": "s", "type": "nominal",
"scale": {"domain": ["Vitesse de vent (m/s)", "L50 Jour", "L50 Nuit"], "range": ["#222222", "#2b2b9b", "#a3282a"]},
"legend": {"orient": "none", "legendX": 285, "legendY": 496, "direction": "horizontal", "columns": 3,
"title": "\u00a0", "titleOrient": "right", "titlePadding": 111, "titleFontSize": 11,
"symbolType": "stroke", "symbolSize": 2000, "symbolStrokeWidth": 1, "clipHeight": 14,
"labelFontSize": 11, "labelColor": "#111111", "labelOffset": 8, "labelLimit": 300,
"strokeColor": "#555555", "fillColor": "#ffffff", "padding": 6, "columnPadding": 15, "gridAlign": "all"}},
"detail": {"field": "g", "type": "nominal"}
}
},
{
"data": {"name": "vent"},
"mark": {"type": "line", "strokeWidth": 1},
"encoding": {
"y": {"field": "v", "type": "quantitative",
"scale": {"domain": [0, 28], "nice": false},
"axis": {"orient": "right", "values": [0,2,4,6,8,10,12,14,16,18,20,22,24,26,28], "format": "d",
"title": null, "grid": false, "labelFontSize": 12, "labelColor": "#222222", "labelPadding": 4,
"tickSize": 6, "tickColor": "#444444", "domainColor": "#222222"}},
"color": {"datum": "Vitesse de vent (m/s)"}
}
}
],
"resolve": {"scale": {"y": "independent"}}
}
]
}
]
}
